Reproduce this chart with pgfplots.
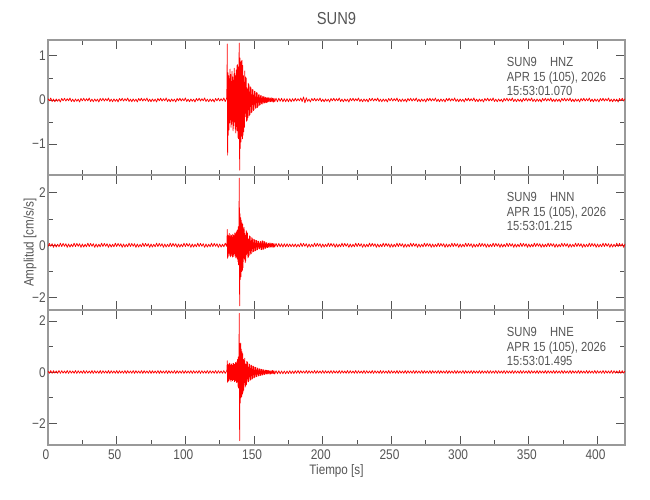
\documentclass[border=0pt]{standalone}
\usepackage{pgfplots}
\usepackage{pgfplotstable}
\pgfplotsset{compat=1.18}
\usepackage{fontspec}
\setmainfont{Liberation Sans}[FakeStretch=0.85]
\definecolor{txt}{HTML}{555555}
\definecolor{frm}{HTML}{999999}

\pgfplotstableread{
t z n e
0 0.03 -0.05 0.05
1 -0.02 0.07 -0.04
2 0.045 -0.04 0.065
3 -0.035 0.06 -0.045
4 0.02 -0.08 0.06
5 -0.04 0.05 -0.035
6 0.025 -0.07 0.05
7 -0.03 0.04 -0.04
8 0.02 -0.06 0.065
9 -0.045 0.08 -0.045
10 0.035 -0.05 0.06
11 -0.02 0.07 -0.035
12 0.04 -0.04 0.05
13 -0.025 0.06 -0.04
14 0.03 -0.08 0.065
15 -0.02 0.05 -0.045
16 0.045 -0.07 0.06
17 -0.035 0.04 -0.035
18 0.02 -0.06 0.05
19 -0.04 0.08 -0.04
20 0.025 -0.05 0.065
21 -0.03 0.07 -0.045
22 0.02 -0.04 0.06
23 -0.045 0.06 -0.035
24 0.035 -0.08 0.05
25 -0.02 0.05 -0.04
26 0.04 -0.07 0.065
27 -0.025 0.04 -0.045
28 0.03 -0.06 0.06
29 -0.02 0.08 -0.035
30 0.045 -0.05 0.05
31 -0.035 0.07 -0.04
32 0.02 -0.04 0.065
33 -0.04 0.06 -0.045
34 0.025 -0.08 0.06
35 -0.03 0.05 -0.035
36 0.02 -0.07 0.05
37 -0.045 0.04 -0.04
38 0.035 -0.06 0.065
39 -0.02 0.08 -0.045
40 0.04 -0.05 0.06
41 -0.025 0.07 -0.035
42 0.03 -0.04 0.05
43 -0.02 0.06 -0.04
44 0.045 -0.08 0.065
45 -0.035 0.05 -0.045
46 0.02 -0.07 0.06
47 -0.04 0.04 -0.035
48 0.025 -0.06 0.05
49 -0.03 0.08 -0.04
50 0.02 -0.05 0.065
51 -0.045 0.07 -0.045
52 0.035 -0.04 0.06
53 -0.02 0.06 -0.035
54 0.04 -0.08 0.05
55 -0.025 0.05 -0.04
56 0.03 -0.07 0.065
57 -0.02 0.04 -0.045
58 0.045 -0.06 0.06
59 -0.035 0.08 -0.035
60 0.02 -0.05 0.05
61 -0.04 0.07 -0.04
62 0.025 -0.04 0.065
63 -0.03 0.06 -0.045
64 0.02 -0.08 0.06
65 -0.045 0.05 -0.035
66 0.035 -0.07 0.05
67 -0.02 0.04 -0.04
68 0.04 -0.06 0.065
69 -0.025 0.08 -0.045
70 0.03 -0.05 0.06
71 -0.02 0.07 -0.035
72 0.045 -0.04 0.05
73 -0.035 0.06 -0.04
74 0.02 -0.08 0.065
75 -0.04 0.05 -0.045
76 0.025 -0.07 0.06
77 -0.03 0.04 -0.035
78 0.02 -0.06 0.05
79 -0.045 0.08 -0.04
80 0.035 -0.05 0.065
81 -0.02 0.07 -0.045
82 0.04 -0.04 0.06
83 -0.025 0.06 -0.035
84 0.03 -0.08 0.05
85 -0.02 0.05 -0.04
86 0.045 -0.07 0.065
87 -0.035 0.04 -0.045
88 0.02 -0.06 0.06
89 -0.04 0.08 -0.035
90 0.025 -0.05 0.05
91 -0.03 0.07 -0.04
92 0.02 -0.04 0.065
93 -0.045 0.06 -0.045
94 0.035 -0.08 0.06
95 -0.02 0.05 -0.035
96 0.04 -0.07 0.05
97 -0.025 0.04 -0.04
98 0.03 -0.06 0.065
99 -0.02 0.08 -0.045
100 0.045 -0.05 0.06
101 -0.035 0.07 -0.035
102 0.02 -0.04 0.05
103 -0.04 0.06 -0.04
104 0.025 -0.08 0.065
105 -0.03 0.05 -0.045
106 0.02 -0.07 0.06
107 -0.045 0.04 -0.035
108 0.035 -0.06 0.05
109 -0.02 0.08 -0.04
110 0.04 -0.05 0.065
111 -0.025 0.07 -0.045
112 0.03 -0.04 0.06
113 -0.02 0.06 -0.035
114 0.045 -0.08 0.05
115 -0.035 0.05 -0.04
116 0.02 -0.07 0.065
117 -0.04 0.04 -0.045
118 0.025 -0.06 0.06
119 -0.03 0.08 -0.035
120 0.02 -0.05 0.05
121 -0.045 0.07 -0.04
122 0.035 -0.04 0.065
123 -0.02 0.06 -0.045
124 0.04 -0.08 0.06
125 -0.025 0.05 -0.035
126 0.03 -0.07 0.05
127 -0.02 0.04 -0.04
128 0.045 -0.06 0.065
129 -0.035 0.08 -0.045
130 0.03 -0.04 0.05
130.25 0.30 0.10 0.10
130.50 1.27 0.60 0.45
130.75 -1.25 -0.50 -0.40
131.00 0.62 0.38 0.30
131.25 -0.80 -0.42 -0.35
131.50 0.55 0.35 0.28
131.75 -0.68 -0.30 -0.32
132.00 0.48 0.45 0.36
132.25 -0.52 -0.38 -0.25
132.50 0.70 0.32 0.33
132.75 -0.45 -0.44 -0.30
133.00 0.58 0.40 0.27
133.25 -0.62 -0.33 -0.36
133.50 0.42 0.37 0.31
133.75 -0.55 -0.40 -0.28
134.00 0.65 0.30 0.34
134.25 -0.48 -0.45 -0.33
134.50 0.52 0.42 0.26
134.75 -0.70 -0.35 -0.30
135.00 0.45 0.38 0.35
135.25 -0.58 -0.43 -0.29
135.50 0.72 0.36 0.32
135.75 -0.50 -0.32 -0.37
136.00 0.60 0.47 0.30
136.25 -0.66 -0.40 -0.34
136.50 0.55 0.44 0.38
136.75 -0.75 -0.48 -0.31
137.00 0.68 0.50 0.36
137.25 -0.60 -0.45 -0.40
137.50 0.78 0.55 0.42
137.75 -0.70 -0.52 -0.38
138.00 0.80 0.58 0.50
138.25 -0.85 -0.62 -0.55
138.50 0.75 0.70 0.60
138.75 -0.88 -0.75 -0.62
139.00 0.90 0.95 0.80
139.25 1.29 2.55 2.30
139.50 -1.59 -2.30 -2.67
139.75 0.95 1.20 1.10
140.00 -1.10 -1.30 -1.20
140.25 0.85 1.05 1.14
140.50 -0.95 -1.20 -1.00
140.75 0.88 0.95 0.90
141.00 -0.82 -1.00 -0.95
141.25 0.90 0.85 0.80
141.50 -0.88 -0.95 -0.85
141.75 0.78 0.80 0.72
142.00 -0.80 -0.85 -0.78
142.25 0.55 0.62 0.50
142.50 -0.72 -0.48 -0.70
142.75 0.40 0.68 0.45
143.00 -0.62 -0.52 -0.40
143.25 0.66 0.45 0.55
143.50 -0.38 -0.66 -0.58
143.75 0.52 0.38 0.32
144.00 -0.30 -0.60 -0.52
144.25 0.50 0.55 0.30
144.50 -0.48 -0.35 -0.48
144.75 0.28 0.50 0.42
145.00 -0.46 -0.30 -0.25
145.25 0.25 0.46 0.40
145.50 -0.40 -0.48 -0.38
145.75 0.38 0.25 0.20
146.00 -0.22 -0.44 -0.37
146.25 0.35 0.22 0.33
146.50 -0.36 -0.38 -0.18
146.75 0.18 0.36 0.31
147.00 -0.33 -0.20 -0.32
147.25 0.30 0.33 0.15
147.50 -0.15 -0.34 -0.29
147.75 0.28 0.16 0.28
148.00 -0.29 -0.32 -0.14
148.25 0.12 0.29 0.26
148.50 -0.27 -0.12 -0.27
148.75 0.24 0.27 0.12
149.00 -0.10 -0.26 -0.24
149.25 0.23 0.10 0.24
149.50 -0.24 -0.24 -0.10
149.75 0.10 0.23 0.22
150.00 -0.22 -0.10 -0.22
150.25 0.20 0.21 0.08
150.50 -0.08 -0.22 -0.20
150.75 0.19 0.08 0.20
151.00 -0.19 -0.21 -0.08
151.25 0.07 0.19 0.19
151.50 -0.18 -0.07 -0.18
151.75 0.17 0.18 0.07
152.00 -0.06 -0.18 -0.17
152.25 0.16 0.07 0.17
152.50 -0.17 -0.17 -0.06
152.75 0.06 0.16 0.16
153.00 -0.14 -0.06 -0.15
153.25 0.12 0.15 0.06
153.50 -0.05 -0.13 -0.14
153.75 0.12 0.06 0.14
154.00 -0.12 -0.14 -0.05
154.25 0.05 0.12 0.13
154.50 -0.11 -0.05 -0.13
154.75 0.10 0.15 0.05
155.00 -0.05 -0.16 -0.12
155.25 0.10 0.06 0.12
155.50 -0.09 -0.17 -0.05
155.75 0.04 0.16 0.11
156.00 -0.09 -0.07 -0.11
156.25 0.08 0.17 0.05
156.50 -0.04 -0.15 -0.10
156.75 0.08 0.06 0.10
157.00 -0.07 -0.15 -0.04
157.25 0.04 0.14 0.09
157.50 -0.07 -0.06 -0.09
157.75 0.07 0.13 0.04
158.00 -0.04 -0.12 -0.08
158.25 0.06 0.05 0.08
158.50 -0.06 -0.11 -0.04
158.75 0.04 0.10 0.08
159.00 -0.06 -0.05 -0.07
159.25 0.05 0.10 0.07
159.50 -0.04 -0.09 -0.04
159.75 0.05 0.05 0.07
160.00 -0.05 -0.09 -0.07
160.5 0.05 0.08 0.07
161 -0.04 -0.08 -0.07
161.5 0.05 0.09 0.06
162 -0.04 -0.07 -0.07
162.5 0.05 0.08 0.06
163 -0.04 -0.08 -0.06
163.5 0.04 0.07 0.07
164 -0.05 -0.08 -0.06
164.5 0.04 0.07 0.06
165 -0.04 -0.07 -0.07
166 0.04 0.07 0.06
167 -0.04 -0.06 -0.06
168 0.04 0.07 0.06
169 -0.03 -0.06 -0.06
170 0.04 0.06 0.05
171 -0.04 -0.07 -0.06
172 0.03 0.06 0.05
173 -0.04 -0.06 -0.06
174 0.03 0.06 0.05
175 -0.04 -0.06 -0.05
176 0.03 0.05 0.06
177 -0.04 -0.06 -0.05
178 0.03 0.05 0.05
179 -0.03 -0.06 -0.05
180 0.04 0.05 0.06
181 -0.025 -0.07 -0.04
182 0.03 0.04 0.065
183 -0.02 -0.06 -0.045
184 0.045 0.08 0.06
185 -0.035 -0.05 -0.035
186 0.07 0.07 0.05
187 -0.065 -0.04 -0.04
188 0.05 0.06 0.065
189 -0.03 -0.08 -0.045
190 0.02 0.05 0.06
191 -0.045 -0.07 -0.035
192 0.035 0.04 0.05
193 -0.02 -0.06 -0.04
194 0.04 0.08 0.065
195 -0.025 -0.05 -0.045
196 0.03 0.07 0.06
197 -0.02 -0.04 -0.035
198 0.045 0.06 0.05
199 -0.035 -0.08 -0.04
200 0.02 0.05 0.065
201 -0.04 -0.07 -0.045
202 0.025 0.04 0.06
203 -0.03 -0.06 -0.035
204 0.02 0.08 0.05
205 -0.045 -0.05 -0.04
206 0.035 0.07 0.065
207 -0.02 -0.04 -0.045
208 0.04 0.06 0.06
209 -0.025 -0.08 -0.035
210 0.03 0.05 0.05
211 -0.02 -0.07 -0.04
212 0.045 0.04 0.065
213 -0.035 -0.06 -0.045
214 0.02 0.08 0.06
215 -0.04 -0.05 -0.035
216 0.025 0.07 0.05
217 -0.03 -0.04 -0.04
218 0.02 0.06 0.065
219 -0.045 -0.08 -0.045
220 0.035 0.05 0.06
221 -0.02 -0.07 -0.035
222 0.04 0.04 0.05
223 -0.025 -0.06 -0.04
224 0.03 0.08 0.065
225 -0.02 -0.05 -0.045
226 0.045 0.07 0.06
227 -0.035 -0.04 -0.035
228 0.02 0.06 0.05
229 -0.04 -0.08 -0.04
230 0.025 0.05 0.065
231 -0.03 -0.07 -0.045
232 0.02 0.04 0.06
233 -0.045 -0.06 -0.035
234 0.035 0.08 0.05
235 -0.02 -0.05 -0.04
236 0.04 0.07 0.065
237 -0.025 -0.04 -0.045
238 0.03 0.06 0.06
239 -0.02 -0.08 -0.035
240 0.045 0.05 0.05
241 -0.035 -0.07 -0.04
242 0.02 0.04 0.065
243 -0.04 -0.06 -0.045
244 0.025 0.08 0.06
245 -0.03 -0.05 -0.035
246 0.02 0.07 0.05
247 -0.045 -0.04 -0.04
248 0.035 0.06 0.065
249 -0.02 -0.08 -0.045
250 0.04 0.05 0.06
251 -0.025 -0.07 -0.035
252 0.03 0.04 0.05
253 -0.02 -0.06 -0.04
254 0.045 0.08 0.065
255 -0.035 -0.05 -0.045
256 0.02 0.07 0.06
257 -0.04 -0.04 -0.035
258 0.025 0.06 0.05
259 -0.03 -0.08 -0.04
260 0.02 0.05 0.065
261 -0.045 -0.07 -0.045
262 0.035 0.04 0.06
263 -0.02 -0.06 -0.035
264 0.04 0.08 0.05
265 -0.025 -0.05 -0.04
266 0.03 0.07 0.065
267 -0.02 -0.04 -0.045
268 0.045 0.06 0.06
269 -0.035 -0.08 -0.035
270 0.02 0.05 0.05
271 -0.04 -0.07 -0.04
272 0.025 0.04 0.065
273 -0.03 -0.06 -0.045
274 0.02 0.08 0.06
275 -0.045 -0.05 -0.035
276 0.035 0.07 0.05
277 -0.02 -0.04 -0.04
278 0.04 0.06 0.065
279 -0.025 -0.08 -0.045
280 0.03 0.05 0.06
281 -0.02 -0.07 -0.035
282 0.045 0.04 0.05
283 -0.035 -0.06 -0.04
284 0.02 0.08 0.065
285 -0.04 -0.05 -0.045
286 0.025 0.07 0.06
287 -0.03 -0.04 -0.035
288 0.02 0.06 0.05
289 -0.045 -0.08 -0.04
290 0.035 0.05 0.065
291 -0.02 -0.07 -0.045
292 0.04 0.04 0.06
293 -0.025 -0.06 -0.035
294 0.03 0.08 0.05
295 -0.02 -0.05 -0.04
296 0.045 0.07 0.065
297 -0.035 -0.04 -0.045
298 0.02 0.06 0.06
299 -0.04 -0.08 -0.035
300 0.025 0.05 0.05
301 -0.03 -0.07 -0.04
302 0.02 0.04 0.065
303 -0.045 -0.06 -0.045
304 0.035 0.08 0.06
305 -0.02 -0.05 -0.035
306 0.04 0.07 0.05
307 -0.025 -0.04 -0.04
308 0.03 0.06 0.065
309 -0.02 -0.08 -0.045
310 0.045 0.05 0.06
311 -0.035 -0.07 -0.035
312 0.02 0.04 0.05
313 -0.04 -0.06 -0.04
314 0.025 0.08 0.065
315 -0.03 -0.05 -0.045
316 0.02 0.07 0.06
317 -0.045 -0.04 -0.035
318 0.035 0.06 0.05
319 -0.02 -0.08 -0.04
320 0.04 0.05 0.065
321 -0.025 -0.07 -0.045
322 0.03 0.04 0.06
323 -0.02 -0.06 -0.035
324 0.045 0.08 0.05
325 -0.035 -0.05 -0.04
326 0.02 0.07 0.065
327 -0.04 -0.04 -0.045
328 0.025 0.06 0.06
329 -0.03 -0.08 -0.035
330 0.02 0.05 0.05
331 -0.045 -0.07 -0.04
332 0.035 0.04 0.065
333 -0.02 -0.06 -0.045
334 0.04 0.08 0.06
335 -0.025 -0.05 -0.035
336 0.03 0.07 0.05
337 -0.02 -0.04 -0.04
338 0.045 0.06 0.065
339 -0.035 -0.08 -0.045
340 0.02 0.05 0.06
341 -0.04 -0.07 -0.035
342 0.025 0.04 0.05
343 -0.03 -0.06 -0.04
344 0.02 0.08 0.065
345 -0.045 -0.05 -0.045
346 0.035 0.07 0.06
347 -0.02 -0.04 -0.035
348 0.04 0.06 0.05
349 -0.025 -0.08 -0.04
350 0.03 0.05 0.065
351 -0.02 -0.07 -0.045
352 0.045 0.04 0.06
353 -0.035 -0.06 -0.035
354 0.02 0.08 0.05
355 -0.04 -0.05 -0.04
356 0.025 0.07 0.065
357 -0.03 -0.04 -0.045
358 0.02 0.06 0.06
359 -0.045 -0.08 -0.035
360 0.035 0.05 0.05
361 -0.02 -0.07 -0.04
362 0.04 0.04 0.065
363 -0.025 -0.06 -0.045
364 0.03 0.08 0.06
365 -0.02 -0.05 -0.035
366 0.045 0.07 0.05
367 -0.035 -0.04 -0.04
368 0.02 0.06 0.065
369 -0.04 -0.08 -0.045
370 0.025 0.05 0.06
371 -0.03 -0.07 -0.035
372 0.02 0.04 0.05
373 -0.045 -0.06 -0.04
374 0.035 0.08 0.065
375 -0.02 -0.05 -0.045
376 0.04 0.07 0.06
377 -0.025 -0.04 -0.035
378 0.03 0.06 0.05
379 -0.02 -0.08 -0.04
380 0.045 0.05 0.065
381 -0.035 -0.07 -0.045
382 0.02 0.04 0.06
383 -0.04 -0.06 -0.035
384 0.025 0.08 0.05
385 -0.03 -0.05 -0.04
386 0.02 0.07 0.065
387 -0.045 -0.04 -0.045
388 0.035 0.06 0.06
389 -0.02 -0.08 -0.035
390 0.04 0.05 0.05
391 -0.025 -0.07 -0.04
392 0.03 0.04 0.065
393 -0.02 -0.06 -0.045
394 0.045 0.08 0.06
395 -0.035 -0.05 -0.035
396 0.02 0.07 0.05
397 -0.04 -0.04 -0.04
398 0.025 0.06 0.065
399 -0.03 -0.08 -0.045
400 0.02 0.05 0.06
401 -0.045 -0.07 -0.035
402 0.035 0.04 0.05
403 -0.02 -0.06 -0.04
404 0.04 0.08 0.065
405 -0.025 -0.05 -0.045
406 0.03 0.07 0.06
407 -0.02 -0.04 -0.035
408 0.045 0.06 0.05
409 -0.035 -0.08 -0.04
410 0.02 0.05 0.065
411 -0.04 -0.07 -0.045
412 0.025 0.04 0.06
413 -0.03 -0.06 -0.035
414 0.02 0.08 0.05
415 -0.045 -0.05 -0.04
416 0.035 0.07 0.065
417 -0.02 -0.04 -0.045
418 0.04 0.06 0.06
419 -0.025 -0.08 -0.035
420 0.03 0.05 0.05
}\data

\pgfplotsset{panel/.style={
  scale only axis, width=432.75pt, height=101.25pt,
  xmin=0, xmax=420,
  xtick={0,50,...,400}, minor x tick num=1,
  minor y tick num=1,
  xtick pos=both, ytick pos=both,
  xticklabel pos=lower, yticklabel pos=left,
  tick align=inside,
  major tick length=6.5pt, minor tick length=3.5pt,
  axis line style={frm, line width=0.8pt},
  every tick/.style={txt, line width=0.6pt},
  tick label style={font=\fontsize{10.5}{12}\selectfont, text=txt},
  xticklabel style={xshift=-1.5pt},
  yticklabel style={inner xsep=1.5pt},
  /pgf/number format/assume math mode=true,
  label style={font=\fontsize{10.3}{12}\selectfont, text=txt},
}}
\tikzset{info/.style={anchor=north west, align=left, inner sep=0pt, text=txt, font=\fontsize{9.9}{10.7}\selectfont}}

\begin{document}
\begin{tikzpicture}
\begin{axis}[panel, at={(0,202.5pt)}, anchor=south west,
  ymin=-1.70, ymax=1.36, ytick={-1,0,1}, yticklabels={−1,0,1},
  xticklabels={},
  title={SUN9}, title style={font=\fontsize{13}{15}\selectfont, text=txt, yshift=2pt}]
\addplot[red, line width=0.55pt, line join=round] table[x=t, y=z] {\data};
\node[info] at (rel axis cs:0.795,0.872) {SUN9\quad HNZ\\APR 15 (105), 2026\\15:53:01.070};
\end{axis}
\begin{axis}[panel, at={(0,101.25pt)}, anchor=south west,
  ymin=-2.46, ymax=2.67, ytick={-2,0,2}, yticklabels={−2,0,2},
  xticklabels={},
  ylabel={Amplitud [cm/s/s]},
  ylabel style={at={(axis description cs:-0.0312,0.5)}, anchor=center}]
\addplot[red, line width=0.55pt, line join=round] table[x=t, y=n] {\data};
\node[info] at (rel axis cs:0.795,0.872) {SUN9\quad HNN\\APR 15 (105), 2026\\15:53:01.215};
\end{axis}
\begin{axis}[panel, at={(0,0)}, anchor=south west,
  ymin=-2.84, ymax=2.43, ytick={-2,0,2}, yticklabels={−2,0,2},
  xlabel={Tiempo [s]},
  xlabel style={at={(axis description cs:0.5,-0.19)}, anchor=center}]
\addplot[red, line width=0.55pt, line join=round] table[x=t, y=e] {\data};
\node[info] at (rel axis cs:0.795,0.872) {SUN9\quad HNE\\APR 15 (105), 2026\\15:53:01.495};
\end{axis}
\useasboundingbox (-36pt,-41.25pt) rectangle (451.5pt,333.75pt);
\end{tikzpicture}
\end{document}
